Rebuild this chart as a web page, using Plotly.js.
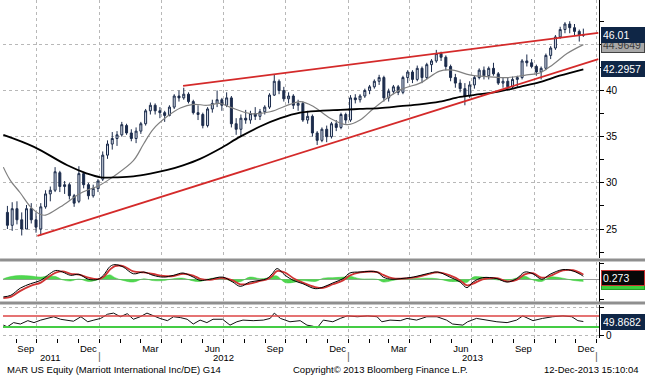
<!DOCTYPE html>
<html>
<head>
<meta charset="utf-8">
<script src="https://cdn.plot.ly/plotly-3.0.1.min.js"></script>
<style>html,body{margin:0;padding:0;background:#fff;}#chart{width:645px;height:376px;}</style>
</head>
<body>
<div id="chart"></div>
<script>
// ---------- price data (weekly OHLC) ----------
const weekDates = ['2011-08-19','2011-08-26','2011-09-02','2011-09-09','2011-09-16','2011-09-23','2011-09-30','2011-10-07','2011-10-14','2011-10-21','2011-10-28','2011-11-04','2011-11-11','2011-11-18','2011-11-25','2011-12-02','2011-12-09','2011-12-16','2011-12-23','2011-12-30',
'2012-01-06','2012-01-13','2012-01-20','2012-01-27','2012-02-03','2012-02-10','2012-02-17','2012-02-24','2012-03-02','2012-03-09','2012-03-16','2012-03-23','2012-03-30','2012-04-06','2012-04-13','2012-04-20','2012-04-27','2012-05-04','2012-05-11','2012-05-18','2012-05-25','2012-06-01','2012-06-08','2012-06-15','2012-06-22','2012-06-29','2012-07-06','2012-07-13','2012-07-20','2012-07-27','2012-08-03','2012-08-10','2012-08-17','2012-08-24','2012-08-31','2012-09-07','2012-09-14','2012-09-21','2012-09-28','2012-10-05','2012-10-12','2012-10-19','2012-10-26','2012-11-02','2012-11-09','2012-11-16','2012-11-23','2012-11-30','2012-12-07','2012-12-14','2012-12-21','2012-12-28',
'2013-01-04','2013-01-11','2013-01-18','2013-01-25','2013-02-01','2013-02-08','2013-02-15','2013-02-22','2013-03-01','2013-03-08','2013-03-15','2013-03-22','2013-03-29','2013-04-05','2013-04-12','2013-04-19','2013-04-26','2013-05-03','2013-05-10','2013-05-17','2013-05-24','2013-05-31','2013-06-07','2013-06-14','2013-06-21','2013-06-28','2013-07-05','2013-07-12','2013-07-19','2013-07-26','2013-08-02','2013-08-09','2013-08-16','2013-08-23','2013-08-30','2013-09-06','2013-09-13','2013-09-20','2013-09-27','2013-10-04','2013-10-11','2013-10-18','2013-10-25','2013-11-01','2013-11-08','2013-11-15','2013-11-22','2013-11-29','2013-12-06','2013-12-12'];
const openP  = [26.8,25.4,27.2,26.0,25.0,27.2,26.0,25.0,27.4,28.8,29.2,31.1,29.6,29.8,28.6,28.0,31.0,29.8,28.6,29.4,
30.4,33.0,34.2,34.8,35.2,36.2,35.4,34.8,35.6,36.4,37.8,38.4,37.8,37.6,37.3,38.2,39.4,39.2,39.6,38.8,37.6,37.4,36.2,38.0,38.6,39.0,38.4,39.2,36.4,35.8,37.0,36.8,37.5,37.2,37.7,38.2,39.5,41.0,40.0,39.1,39.4,38.4,38.6,36.8,37.2,35.4,34.6,35.8,35.0,36.4,36.0,37.4,
36.8,39.2,39.0,39.4,40.0,40.4,41.0,41.4,39.2,39.9,40.4,39.8,41.4,42.0,41.2,42.4,41.4,42.8,43.2,44.0,43.6,42.6,41.4,40.8,40.2,39.4,40.6,41.4,42.2,41.6,42.4,41.8,40.8,41.0,40.4,41.2,41.4,43.2,43.0,42.6,42.0,42.4,43.8,44.6,45.8,46.6,47.2,46.8,46.4,46.0];
const highP  = [27.5,27.9,28.0,26.8,27.6,27.8,26.8,27.8,29.2,29.6,31.7,31.3,30.2,30.0,28.8,31.8,31.2,30.0,29.8,30.4,
33.4,34.6,35.5,35.6,36.6,36.4,35.8,36.0,36.6,38.0,38.7,38.6,38.2,37.8,38.4,39.6,40.0,40.3,39.8,39.0,38.4,37.6,38.2,39.0,40.0,39.2,39.8,39.4,37.0,37.4,37.9,37.8,38.2,38.0,38.4,39.7,41.7,41.2,40.4,39.8,39.6,39.0,38.8,37.8,37.4,35.6,36.0,36.2,36.6,36.8,37.6,37.6,
39.5,39.6,39.6,40.2,40.6,41.2,41.7,41.6,40.2,40.6,40.6,41.6,42.2,42.2,42.7,42.6,43.0,43.4,44.4,44.2,43.8,42.8,41.8,41.2,40.8,41.0,41.6,42.4,42.6,42.6,43.0,42.0,41.4,41.4,41.5,41.6,43.4,43.9,43.4,42.8,42.6,44.0,44.8,46.0,46.9,47.4,47.5,47.2,46.6,46.7];
const lowP   = [25.0,24.8,25.5,24.3,25.0,25.6,24.6,24.3,27.2,28.0,29.0,29.0,28.8,28.2,27.4,27.8,29.4,28.2,28.4,29.0,
30.2,32.6,33.6,34.0,35.0,35.2,34.5,34.3,35.3,36.2,37.4,37.4,37.0,36.6,37.2,38.0,38.8,39.0,38.6,37.4,36.8,35.9,36.0,37.6,38.2,37.8,38.2,36.0,35.2,35.0,36.4,36.4,36.8,36.8,37.4,38.0,39.4,39.6,38.8,38.6,38.0,37.8,36.6,36.4,35.0,34.1,34.4,34.4,34.8,35.6,35.8,36.4,
36.6,38.6,38.7,39.2,39.6,40.2,40.6,38.8,38.8,39.6,39.5,39.6,40.8,40.8,41.0,40.8,41.2,42.0,43.0,43.2,42.2,41.0,40.3,39.8,38.4,39.2,40.2,41.2,41.2,41.2,41.6,40.6,40.3,40.0,40.2,40.4,41.2,42.6,42.4,41.6,41.2,42.2,43.4,44.4,45.6,46.2,46.2,46.0,45.3,45.8];
const closeP = [25.4,27.2,26.0,25.0,27.2,26.0,25.2,27.4,28.8,29.2,31.2,29.6,29.8,28.6,27.8,31.0,29.8,28.6,29.4,30.2,
33.0,34.2,34.8,35.2,36.3,35.4,34.8,35.6,36.4,37.8,38.4,37.8,37.6,37.3,38.2,39.4,39.2,39.6,38.8,37.6,37.4,36.2,38.0,38.6,39.0,38.4,39.2,36.4,35.8,37.0,36.8,37.5,37.2,37.7,38.2,39.5,41.0,40.0,39.1,39.4,38.4,38.6,36.8,37.2,35.4,34.6,35.8,35.0,36.4,36.0,37.4,36.8,
39.2,39.0,39.4,40.0,40.4,41.0,41.4,39.2,39.9,40.4,39.8,41.4,42.0,41.2,42.4,41.4,42.8,43.2,44.0,43.6,42.6,41.4,40.8,40.2,39.4,40.6,41.4,42.2,41.6,42.4,41.8,40.8,41.0,40.4,41.2,41.4,43.2,43.0,42.6,42.0,42.4,43.8,44.6,45.8,46.6,47.2,46.8,46.4,46.0,46.01];

// ---------- moving averages ----------
const ma200Dates = ['2011-08-13','2011-09-27','2011-11-15','2011-12-14','2012-01-03','2012-01-28','2012-02-20','2012-03-16','2012-04-10','2012-05-03','2012-05-28','2012-06-26','2012-07-26','2012-08-24','2012-09-23','2012-10-22','2012-11-20','2012-12-20','2013-01-18','2013-02-16','2013-03-18','2013-04-16','2013-05-15','2013-06-14','2013-07-13','2013-08-11','2013-09-10','2013-10-09','2013-11-07','2013-12-12'];
const ma200 = [35.2,33.9,31.9,31.0,30.6,30.6,30.7,31.0,31.4,31.9,32.6,33.7,35.0,36.1,37.0,37.6,37.8,37.9,38.0,38.1,38.3,38.5,38.8,39.3,39.6,39.9,40.4,40.9,41.6,42.2957];
const ma50Dates = ['2011-08-13','2011-08-23','2011-09-07','2011-09-22','2011-10-06','2011-10-14','2011-11-05','2011-12-05','2012-01-03','2012-01-22','2012-02-20','2012-03-06','2012-03-20','2012-04-10','2012-04-29','2012-05-18','2012-06-07','2012-06-26','2012-07-11','2012-08-10','2012-09-08','2012-10-07','2012-10-22','2012-11-10','2012-12-05','2012-12-30','2013-01-18','2013-02-06','2013-02-27','2013-03-22','2013-04-16','2013-05-15','2013-06-03','2013-06-28','2013-07-23','2013-08-22','2013-09-20','2013-10-09','2013-10-28','2013-11-18','2013-12-12'];
const ma50 = [31.7,30.3,28.9,27.4,26.6,26.5,27.4,28.9,29.8,30.7,32.4,34.2,35.8,37.2,38.1,38.5,38.4,38.6,38.2,37.5,37.7,38.5,38.8,38.3,37.0,36.3,36.8,38.0,39.2,40.2,40.8,42.1,42.2,41.7,41.5,41.4,41.7,41.9,42.8,44.0,44.9649];

// ---------- trend lines ----------
const upperTrendX = ['2012-05-03','2014-01-03'];
const upperTrendY = [40.5, 46.25];
const lowerTrendX = ['2011-10-02','2014-01-03'];
const lowerTrendY = [24.25, 43.4];

// ---------- MACD panel ----------
const macdDates = ['2011-08-13','2011-08-24','2011-09-07','2011-09-22','2011-10-07','2011-10-17','2011-10-29','2011-11-08','2011-11-20','2011-12-02','2011-12-16','2011-12-30','2012-01-07','2012-01-17','2012-01-24','2012-02-05','2012-02-20','2012-03-06','2012-03-20','2012-04-04','2012-04-19','2012-05-03','2012-05-18','2012-05-28','2012-06-11','2012-06-30','2012-07-15','2012-07-26','2012-08-09','2012-08-24','2012-09-03','2012-09-11','2012-09-18','2012-09-30','2012-10-12','2012-10-26','2012-11-13','2012-11-25','2012-12-09','2012-12-24','2013-01-03','2013-01-18','2013-02-12','2013-02-21','2013-03-06','2013-03-18','2013-04-06','2013-04-26','2013-05-12','2013-05-30','2013-06-14','2013-06-24','2013-07-03','2013-07-17','2013-08-07','2013-08-22','2013-09-05','2013-09-17','2013-09-29','2013-10-12','2013-10-24','2013-11-12','2013-11-27','2013-12-10','2013-12-12'];
const macdLine = [-1.6,-1.45,-0.8,-0.4,-0.1,0.36,0.8,0.66,0.36,0.45,0.0,0.0,0.36,1.18,1.33,1.12,0.5,0.66,0.36,0.2,0.36,0.57,0.2,-0.1,0.0,0.2,-0.25,-0.64,-0.25,-0.1,0.06,0.5,0.97,0.36,-0.1,-0.4,-0.85,-0.7,-0.33,0.06,0.57,0.66,0.66,0.2,0.0,0.06,0.2,0.5,0.66,0.2,-0.25,-0.76,-0.25,0.15,0.06,-0.25,0.06,0.66,0.5,0.0,0.45,0.88,0.75,0.36,0.273];
const signalLine = [-1.7,-1.6,-1.05,-0.6,-0.3,0.15,0.6,0.72,0.5,0.42,0.15,0.02,0.2,0.9,1.2,1.2,0.72,0.62,0.48,0.3,0.3,0.5,0.34,0.05,-0.05,0.12,-0.1,-0.45,-0.4,-0.15,-0.02,0.3,0.75,0.6,0.1,-0.3,-0.7,-0.78,-0.45,-0.1,0.35,0.62,0.66,0.4,0.1,0.05,0.15,0.42,0.62,0.35,-0.1,-0.55,-0.4,0.0,0.1,-0.18,-0.05,0.45,0.55,0.15,0.3,0.8,0.82,0.5,0.42];
const histBars = [0.05,0.25,0.35,0.3,0.2,0.3,0.25,-0.05,-0.15,0.03,-0.2,-0.03,0.2,0.4,0.15,-0.1,-0.25,0.05,-0.12,-0.12,0.06,0.1,-0.15,-0.2,0.06,0.1,-0.2,-0.22,0.2,0.06,0.1,0.28,0.3,-0.3,-0.28,-0.12,-0.2,0.1,0.15,0.2,0.28,0.05,0.0,-0.25,-0.12,0.02,0.06,0.1,0.05,-0.2,-0.2,-0.28,0.2,0.2,-0.05,-0.1,0.12,0.28,-0.06,-0.2,0.2,0.1,-0.1,-0.18,-0.2];

// ---------- RSI panel ----------
const rsiDates = ['2011-08-13','2011-08-19','2011-08-28','2011-09-07','2011-09-18','2011-09-27','2011-10-07','2011-10-17','2011-10-26','2011-11-05','2011-11-15','2011-11-24','2011-12-05','2011-12-15','2011-12-24','2012-01-03','2012-01-13','2012-01-22','2012-02-01','2012-02-11','2012-02-20','2012-03-01','2012-03-11','2012-03-20','2012-03-30','2012-04-10','2012-04-19','2012-04-29','2012-05-09','2012-05-18','2012-05-28','2012-06-07','2012-06-16','2012-06-30','2012-07-11','2012-07-21','2012-07-30','2012-08-14','2012-08-29','2012-09-08','2012-09-14','2012-09-23','2012-10-07','2012-10-22','2012-11-01','2012-11-10','2012-11-16','2012-11-25','2012-12-09','2012-12-20','2012-12-30','2013-01-14','2013-01-29','2013-02-12','2013-02-19','2013-03-03','2013-03-18','2013-03-28','2013-04-11','2013-04-26','2013-05-11','2013-05-25','2013-06-03','2013-06-18','2013-06-25','2013-07-08','2013-07-23','2013-08-07','2013-08-22','2013-09-05','2013-09-14','2013-09-29','2013-10-13','2013-10-28','2013-11-12','2013-11-25','2013-12-04','2013-12-12'];
const rsiVals = [37,31,46,41,53,46,55,61,67,58,53,51,67,49,55,61,76,80,67,78,58,67,80,70,61,53,67,64,58,41,55,46,58,58,37,49,55,53,55,61,80,61,49,53,37,33,27,55,49,61,70,67,70,67,49,55,53,61,55,67,67,55,41,37,49,61,55,49,46,55,70,53,61,67,70,67,53,49.8682];
const rsiUpper = 70, rsiLower = 30;

// ---------- axis text ----------
const quarterStarts = ['2011-10-01','2012-01-01','2012-04-01','2012-07-01','2012-10-01','2013-01-01','2013-04-01','2013-07-01','2013-10-01','2014-01-01'];
const monthStarts = ['2011-09-01','2011-10-01','2011-11-01','2011-12-01','2012-01-01','2012-02-01','2012-03-01','2012-04-01','2012-05-01','2012-06-01','2012-07-01','2012-08-01','2012-09-01','2012-10-01','2012-11-01','2012-12-01','2013-01-01','2013-02-01','2013-03-01','2013-04-01','2013-05-01','2013-06-01','2013-07-01','2013-08-01','2013-09-01','2013-10-01','2013-11-01','2013-12-01','2014-01-01'];
const monthLabelDates = ['2011-09-15','2011-12-16','2012-03-16','2012-06-15','2012-09-15','2012-12-16','2013-03-16','2013-06-15','2013-09-15','2013-12-16'];
const monthLabels = ['Sep','Dec','Mar','Jun','Sep','Dec','Mar','Jun','Sep','Dec'];
const yearLabelDates = ['2011-10-21','2012-07-01','2013-07-02'];
const yearLabels = ['2011','2012','2013'];
const yearBreaks = ['2012-01-01','2013-01-01','2014-01-01'];
const priceTicks = [25,30,35,40,45];
const priceTickText = ['25','30','35','40',''];
const lastLabels = {price:'46.01', ma50:'44.9649', ma200:'42.2957', macd:'0.273', hist:'-0.2000', rsi:'49.8682'};
const footerLeft = 'MAR US Equity (Marriott International Inc/DE) G14';
const footerMid = 'Copyright\u00A9 2013 Bloomberg Finance L.P.';
const footerRight = '12-Dec-2013 15:10:04';

const xRange = ['2011-08-12 12:00','2014-01-04'];
const navy = '#1c2c4c';
const gridC = '#b8b8b8';
const FONT = 'Liberation Sans, Arial, sans-serif';

const traces = [
  {type:'candlestick', x:weekDates, open:openP, high:highP, low:lowP, close:closeP, xaxis:'x', yaxis:'y',
   increasing:{line:{color:navy,width:1}, fillcolor:'#d8dfea'}, decreasing:{line:{color:navy,width:1}, fillcolor:navy},
   whiskerwidth:0, hoverinfo:'skip'},
  {type:'scatter', mode:'lines', x:ma50Dates, y:ma50, line:{color:'#808080',width:1.2,shape:'spline'}, xaxis:'x', yaxis:'y', hoverinfo:'skip'},
  {type:'scatter', mode:'lines', x:ma200Dates, y:ma200, line:{color:'#000',width:1.8,shape:'spline'}, xaxis:'x', yaxis:'y', hoverinfo:'skip'},
  {type:'scatter', mode:'lines', x:upperTrendX, y:upperTrendY, line:{color:'#d42a2a',width:1.8}, xaxis:'x', yaxis:'y', hoverinfo:'skip'},
  {type:'scatter', mode:'lines', x:lowerTrendX, y:lowerTrendY, line:{color:'#d42a2a',width:1.8}, xaxis:'x', yaxis:'y', hoverinfo:'skip'},
  {type:'scatter', mode:'lines', x:macdDates, y:histBars, fill:'tozeroy', fillcolor:'#4fd84f', line:{color:'#3cc83c',width:0.5,shape:'spline'}, xaxis:'x2', yaxis:'y2', hoverinfo:'skip'},
  {type:'scatter', mode:'lines', x:macdDates, y:signalLine, line:{color:'#d03434',width:1.8,shape:'spline'}, xaxis:'x2', yaxis:'y2', hoverinfo:'skip'},
  {type:'scatter', mode:'lines', x:macdDates, y:macdLine, line:{color:'#000',width:1,shape:'spline'}, xaxis:'x2', yaxis:'y2', hoverinfo:'skip'},
  {type:'scatter', mode:'lines', x:rsiDates, y:rsiVals, line:{color:'#111',width:1}, xaxis:'x3', yaxis:'y3', hoverinfo:'skip'},
  {type:'scatter', mode:'lines', x:[], y:[], xaxis:'x4', yaxis:'y3', hoverinfo:'skip'}
];

const yBot = 38, plotH = 376 - yBot;
function dom(pxTop, pxBot){ return [(plotH-pxBot)/plotH, (plotH-pxTop)/plotH]; }
function py(px){ return (plotH-px)/plotH; }

const baseX = {type:'date', range:xRange, tickvals:quarterStarts, showticklabels:false, ticks:'', showgrid:true, gridcolor:gridC, griddash:'dot', gridwidth:1, zeroline:false, showline:false, fixedrange:true};
const rightY = {side:'right', ticks:'outside', ticklen:4, tickcolor:'#000', showline:true, linecolor:'#000', linewidth:1, zeroline:false, fixedrange:true, tickfont:{family:FONT,size:10,color:'#000'}};

const annotations = [];
yearLabelDates.forEach((d,i)=>annotations.push({xref:'x3', yref:'paper', x:d, y:py(357.5), yanchor:'middle', xanchor:'center', text:yearLabels[i], showarrow:false, font:{family:FONT,size:9.5,color:'#000'}}));
yearBreaks.forEach(d=>annotations.push({xref:'x3', yref:'paper', x:d, y:py(356), yanchor:'middle', xanchor:'center', text:'|', showarrow:false, font:{family:FONT,size:11,color:'#666'}}));
annotations.push({xref:'paper', yref:'paper', x:0.003, xanchor:'left', y:py(369.5), yanchor:'middle', text:footerLeft, showarrow:false, font:{family:FONT,size:9.5,color:'#000'}});
annotations.push({xref:'paper', yref:'paper', x:0.633, xanchor:'center', y:py(369.5), yanchor:'middle', text:footerMid, showarrow:false, font:{family:FONT,size:9.5,color:'#000'}});
annotations.push({xref:'paper', yref:'paper', x:1.071, xanchor:'right', y:py(369.5), yanchor:'middle', text:footerRight, showarrow:false, font:{family:FONT,size:9.5,color:'#000'}});
function box(yref, y, text, bg, fg, border, yshift){
  annotations.push({xref:'paper', x:1, xanchor:'left', xshift:2, yref:yref, y:y, yanchor:'middle', yshift:yshift||0, text:text, showarrow:false, bgcolor:bg, bordercolor:border, borderwidth:1, borderpad:1, width:40, align:'left', font:{family:FONT,size:10.5,color:fg}});
}
box('y', parseFloat(lastLabels.ma50), lastLabels.ma50, '#a8a8a8', '#3a3a3a', '#444');
box('y', parseFloat(lastLabels.price), lastLabels.price, '#0f2646', '#fff', '#0f2646');
box('y', parseFloat(lastLabels.ma200), lastLabels.ma200, '#0f2646', '#fff', '#0f2646');
box('y2', parseFloat(lastLabels.hist), lastLabels.hist, '#3ccf3c', '#333', '#2a9a2a');
box('y2', parseFloat(lastLabels.macd), lastLabels.macd, '#080808', '#fff', '#c83232', -2);
box('y3', parseFloat(lastLabels.rsi), lastLabels.rsi, '#0f2646', '#fff', '#0f2646');

const shapes = [
  {type:'line', xref:'paper', yref:'paper', x0:-0.005, x1:1.08, y0:py(260), y1:py(260), line:{color:'#8f8f8f',width:3}},
  {type:'line', xref:'paper', yref:'paper', x0:-0.005, x1:1.08, y0:py(303), y1:py(303), line:{color:'#8f8f8f',width:3}},
  {type:'line', xref:'paper', yref:'y3', x0:0, x1:1, y0:rsiUpper, y1:rsiUpper, line:{color:'#d44',width:1.5}},
  {type:'line', xref:'paper', yref:'y3', x0:0, x1:1, y0:rsiLower, y1:rsiLower, line:{color:'#4c4',width:2}}
];

const layout = {
  width:645, height:376,
  margin:{l:3, r:46, t:0, b:yBot, pad:0},
  paper_bgcolor:'#fff', plot_bgcolor:'#fff',
  showlegend:false, hovermode:false,
  font:{family:FONT, size:10, color:'#000'},
  xaxis: Object.assign({}, baseX, {anchor:'y', rangeslider:{visible:false}}),
  xaxis2: Object.assign({}, baseX, {anchor:'y2'}),
  xaxis3: Object.assign({}, baseX, {anchor:'y3', ticks:'outside', ticklen:4, tickcolor:'#000',
           minor:{tickvals:monthStarts, ticks:'outside', ticklen:4, tickcolor:'#000', showgrid:false}}),
  xaxis4: {type:'date', range:xRange, overlaying:'x3', anchor:'y3', side:'bottom', tickvals:monthLabelDates, ticktext:monthLabels,
           ticks:'', ticklabelstandoff:3, showgrid:false, showline:false, zeroline:false, fixedrange:true, tickfont:{family:FONT,size:9.5,color:'#000'}},
  yaxis: Object.assign({}, rightY, {domain:dom(0,258), anchor:'x', range:[21.86,49.80], tickvals:priceTicks, ticktext:priceTickText,
           showgrid:true, gridcolor:gridC, griddash:'dot', gridwidth:1,
           minor:{tickvals:[22.5,27.5,32.5,37.5,42.5,47.5], ticks:'outside', ticklen:4, tickcolor:'#000', showgrid:false}}),
  yaxis2: Object.assign({}, rightY, {domain:dom(262,302), anchor:'x2', range:[-2.06,1.57], tickvals:[-1.8,1.4], ticktext:['',''],
           showgrid:false, zeroline:true, zerolinecolor:'#9a9a9a', zerolinewidth:1}),
  yaxis3: Object.assign({}, rightY, {domain:dom(305,338), anchor:'x3', range:[-8.9,108.9], tickvals:[0,100], ticktext:['0',''],
           showgrid:true, gridcolor:gridC, griddash:'dot', gridwidth:1}),
  annotations: annotations,
  shapes: shapes
};

Plotly.newPlot('chart', traces, layout, {staticPlot:true, displayModeBar:false});
</script>
</body>
</html>
